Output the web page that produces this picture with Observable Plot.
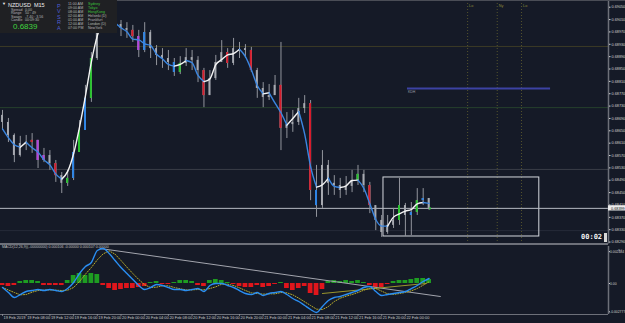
<!DOCTYPE html>
<html><head><meta charset="utf-8">
<script src="https://cdn.jsdelivr.net/npm/d3@7"></script>
<script src="https://cdn.jsdelivr.net/npm/@observablehq/plot@0.6"></script>
<style>
html,body{margin:0;padding:0;background:#151a27;}
#wrap{position:relative;width:625px;height:323px;overflow:hidden;background:#151a27;font-family:"Liberation Sans",Arial,sans-serif;}
#main,#macd{position:absolute;left:0;}
#main{top:0}
#macd{top:245px}
#topline{position:absolute;left:0;top:0;width:625px;height:1px;background:#4a4d56;}
#info{position:absolute;left:0;top:0;width:117px;height:33px;background:#1f2023;color:#bdbdbd;}
#info span{position:absolute;white-space:nowrap;line-height:1;}
.sm{font-size:3.6px;color:#b5b5b5;}
.pv{font-size:5.5px;color:#4f5fd0;left:57px;}
#timer{position:absolute;left:581px;top:234px;font-size:7px;font-weight:bold;color:#f2f2f2;font-family:"DejaVu Sans Mono",monospace;line-height:1;}
#icon{position:absolute;left:603.5px;top:233px;width:3.5px;height:9px;background:#d8d8d8;}
#macdlab{position:absolute;left:2px;top:246px;font-size:3.6px;color:#c0c0c0;white-space:nowrap;line-height:1;}
</style></head>
<body><div id="wrap">
<div id="main"></div><div id="macd"></div><div id="topline"></div>
<div id="info">
  <span style="left:2px;top:2px;font-size:4px;color:#eee">▼</span>
  <span style="left:8px;top:2.5px;font-size:5.5px;color:#f0f0f0">NZDUSD&nbsp;&nbsp;M15</span>
  <span class="sm" style="left:11px;top:8.5px">Spread</span><span class="sm" style="left:25px;top:8.5px">0.00</span>
  <span class="sm" style="left:11px;top:12px">Range</span><span class="sm" style="left:25px;top:12px">50 : 49</span>
  <span class="sm" style="left:11px;top:15.5px">Swaps</span><span class="sm" style="left:25px;top:15.5px">-7.40 : 3.56</span>
  <span class="sm" style="left:11px;top:19px">Candle</span><span class="sm" style="left:25px;top:19px">00:09:30</span>
  <span style="left:13px;top:23px;font-size:8px;color:#3fd23f">0.6839</span>
  <span class="pv" style="top:3.5px">P</span><span class="pv" style="top:9px">V</span><span class="pv" style="top:14.5px">S</span><span class="pv" style="top:20px">R</span><span class="pv" style="top:25.5px">A</span>
  <span class="sm" style="left:68px;top:2.5px">11:00 AM</span><span class="sm" style="left:88px;top:2.5px;color:#3cc23c">Sydney</span>
  <span class="sm" style="left:68px;top:6.5px">09:00 AM</span><span class="sm" style="left:88px;top:6.5px;color:#3cc23c">Tokyo</span>
  <span class="sm" style="left:68px;top:10.5px">08:00 AM</span><span class="sm" style="left:88px;top:10.5px;color:#3cc23c">HongKong</span>
  <span class="sm" style="left:68px;top:14.5px">02:00 AM</span><span class="sm" style="left:88px;top:14.5px">Helsinki (D)</span>
  <span class="sm" style="left:68px;top:18.5px">01:00 AM</span><span class="sm" style="left:88px;top:18.5px">Frankfurt</span>
  <span class="sm" style="left:68px;top:22.5px">12:00 AM</span><span class="sm" style="left:88px;top:22.5px">London (D)</span>
  <span class="sm" style="left:68px;top:26.5px">07:00 PM</span><span class="sm" style="left:88px;top:26.5px">NewYork</span>
</div>
<div id="macdlab">MACD(12,26,9)(-.00000000) 0.000106 -0.00000 0.000107 0.00000</div>
<div id="timer">00:02</div><div id="icon"></div>
</div>
<script>
// ---- data (hours since 19 Feb 2019 00:00, hourly bars) ----
const hours = d3.range(4, 77);
const close = [0.68677,0.68635,0.68570,0.68609,0.68612,0.68619,0.68554,0.68570,0.68544,0.68505,
0.68480,0.68496,0.68580,0.68651,0.68755,0.68884,0.68981,0.69007,0.69020,0.68994,
0.68981,0.68975,0.68955,0.68910,0.68968,0.68916,0.68894,0.68884,0.68871,0.68839,
0.68868,0.68887,0.68878,0.68845,0.68764,0.68819,0.68871,0.68903,0.68868,0.68916,
0.68916,0.68910,0.68845,0.68787,0.68758,0.68764,0.68797,0.68658,0.68670,0.68677,
0.68722,0.68738,0.68457,0.68408,0.68538,0.68480,0.68473,0.68457,0.68470,0.68489,
0.68509,0.68473,0.68408,0.68360,0.68321,0.68344,0.68360,0.68408,0.68376,0.68386,
0.68424,0.68431,0.68399];
const high = [0.68716,0.68690,0.68640,0.68632,0.68635,0.68641,0.68619,0.68593,0.68586,0.68554,
0.68515,0.68522,0.68619,0.68683,0.68797,0.68903,0.69013,0.69039,0.69046,0.69033,
0.69007,0.69000,0.68991,0.68975,0.69000,0.68975,0.68926,0.68916,0.68910,0.68884,
0.68890,0.68916,0.68910,0.68890,0.68852,0.68845,0.68894,0.68942,0.68916,0.68949,
0.68936,0.68929,0.68920,0.68852,0.68806,0.68800,0.68829,0.68936,0.68709,0.68716,
0.68755,0.68764,0.68748,0.68538,0.68586,0.68554,0.68505,0.68496,0.68502,0.68522,
0.68538,0.68522,0.68483,0.68408,0.68376,0.68376,0.68399,0.68496,0.68415,0.68418,
0.68463,0.68463,0.68431];
const low = [0.68651,0.68612,0.68547,0.68565,0.68586,0.68577,0.68528,0.68547,0.68522,0.68483,
0.68447,0.68470,0.68489,0.68580,0.68651,0.68742,0.68878,0.68968,0.68981,0.68968,
0.68955,0.68949,0.68936,0.68887,0.68903,0.68884,0.68861,0.68852,0.68845,0.68826,
0.68832,0.68858,0.68845,0.68806,0.68725,0.68764,0.68813,0.68871,0.68852,0.68861,
0.68884,0.68884,0.68839,0.68755,0.68725,0.68748,0.68764,0.68586,0.68625,0.68645,
0.68667,0.68706,0.68424,0.68370,0.68399,0.68441,0.68441,0.68431,0.68441,0.68450,
0.68473,0.68450,0.68382,0.68327,0.68305,0.68315,0.68334,0.68344,0.68308,0.68311,
0.68376,0.68408,0.68392];
const firstOpen = 0.68700;
const highlightHours = [9,10,11,13,15,16,17,18,19,26,27,28,33,34,38,42,46,51,56,57,64,66,71,73,74,75];
const highlightKinds = ["red","purple","purple","red","green","blue","green","blue","green","red",
"purple","blue","blue","green","red","red","red","red","red","blue","green","red","green","blue","green","blue"];

const macdMain = [-0.000268,-0.000604,-0.000939,-0.000738,-0.000537,-0.000470,-0.000403,-0.000470,-0.000403,-0.000470,
-0.000537,-0.000336,0.000067,0.000671,0.001141,0.001409,0.002214,0.002349,0.002013,0.001543,
0.001074,0.000671,0.000268,-0.000134,-0.000403,-0.000268,-0.000067,-0.000134,-0.000268,-0.000403,
-0.000403,-0.000470,-0.000403,-0.000336,-0.000537,-0.000134,0.000000,0.000000,-0.000134,-0.000268,
-0.000470,-0.000671,-0.000738,-0.000604,-0.000805,-0.000671,-0.000604,-0.000537,-0.000738,-0.001007,
-0.001208,-0.001476,-0.001745,-0.001946,-0.001543,-0.001141,-0.000939,-0.000872,-0.000738,-0.000604,
-0.000470,-0.000268,-0.000201,-0.000537,-0.000805,-0.000738,-0.000671,-0.000604,-0.000537,-0.000336,
-0.000134,0.000134,0.000336];
const macdHist = [-0.000134,-0.000201,-0.000134,0.000134,0.000201,0.000201,0.000134,-0.000134,-0.000134,-0.000134,
-0.000134,0.000201,0.000537,0.000671,0.000537,0.000671,0.000604,-0.000134,-0.000336,-0.000470,
-0.000403,-0.000336,-0.000336,-0.000268,-0.000201,0.000067,0.000134,-0.000067,-0.000067,0.000067,
0.000201,0.000201,0.000134,-0.000134,-0.000201,0.000201,0.000268,0.000201,0.000067,-0.000067,
-0.000201,-0.000268,-0.000268,-0.000134,-0.000268,-0.000201,-0.000067,0.000067,-0.000336,-0.000470,
-0.000336,-0.000201,-0.000671,-0.000805,-0.000403,0.000134,0.000201,0.000134,0.000201,0.000134,
0.000201,0.000067,-0.000134,-0.000268,-0.000268,-0.000067,0.000134,0.000201,0.000201,0.000268,
0.000336,0.000336,0.000268];

const priceTicks = [0.69050,0.69010,0.68970,0.68930,0.68890,0.68850,0.68810,0.68770,0.68730,0.68690,
0.68650,0.68610,0.68570,0.68530,0.68490,0.68450,0.68410,0.68370,0.68330,0.68290];
const macdTickValues = [0.00214, 0, -0.00190];
const macdTickLabels = ["0.002484", "0.00", "-0.002777"];
const timeHours = [4,8,12,16,20,24,28,32,36,40,44,48,52,56,60,64,68,72];
const timeLabels = ["19 Feb 2019","19 Feb 08:00","19 Feb 12:00","19 Feb 16:00","19 Feb 20:00","20 Feb 00:00",
"20 Feb 04:00","20 Feb 08:00","20 Feb 12:00","20 Feb 16:00","20 Feb 20:00","21 Feb 00:00",
"21 Feb 04:00","21 Feb 08:00","21 Feb 12:00","21 Feb 16:00","21 Feb 20:00","22 Feb 00:00"];
const levelPrices = [0.68923, 0.68725, 0.68525, 0.68327];
const sessionHours = [82.5, 87.5, 91.6];
const sessionLabels = ["Lo", "Ny", "Lo"];
const boxHours = [68.3, 94.6];
const boxPrices = [0.68308, 0.68499];
const kdhPrice = 0.68787;
const kdhHours = [72.35, 96.5];
const kdhLabel = "KDH";
const grayTrend = [{h: 20.5, v: 0.002349}, {h: 77.9, v: -0.000872}];
const oliveTrend = [{h: 58.0, v: -0.000671}, {h: 75.4, v: 0.0}];

// ---- styles / scales ----
const levelColors = ["#3c3b26", "#26402c", "#3a3d47", "#262b39"];
const kindColor = {red: "#d81b2b", green: "#25c42a", blue: "#2a84e8", purple: "#b43fe0"};
const xDomain = [3.662, 106.278];
const yDomain = [0.682837, 0.690717];
const mDomain = [-0.00208, 0.002484];
const axisColor = "#6d7079";
const font = "Liberation Sans, Arial, sans-serif";

// ---- derived rows ----
const bars = hours.map((h, i) => ({h, o: i ? close[i-1] : firstOpen, c: close[i], hi: high[i], lo: low[i]}));
const hiMap = new Map(highlightHours.map((h, i) => [h, highlightKinds[i]]));
const hlBars = bars.filter(b => hiMap.has(b.h)).map(b => ({...b, kind: hiMap.get(b.h)}));
const ma = close.map((_, i) => d3.mean(close.slice(Math.max(0, i-1), i+2)));
const runs = []; let run = null;
for (let i = 1; i < ma.length; i++) {
  const dir = ma[i] > ma[i-1] ? "up" : "down";
  if (!run || run.dir !== dir) { run = {dir, pts: [{h: hours[i-1], v: ma[i-1]}]}; runs.push(run); }
  run.pts.push({h: hours[i], v: ma[i]});
}
const maRows = runs.flatMap((r, k) => r.pts.map(p => ({...p, run: k, dir: r.dir})));
const lastClose = close[close.length-1];
const lastHour = hours[hours.length-1];
const macdRows = hours.map((h, i) => ({h, v: macdMain[i]}));
const histRows = hours.map((h, i) => ({h, v: macdHist[i]}));

const main = Plot.plot({
  width: 625, height: 245,
  marginLeft: 0, marginRight: 17, marginTop: 0, marginBottom: 1.5,
  x: {domain: xDomain, axis: null},
  y: {domain: yDomain, axis: null},
  color: {type: "identity"},
  style: {background: "transparent", overflow: "visible", fontFamily: font, fontSize: "4px", color: "#c8c8c8"},
  marks: [
    Plot.ruleY(levelPrices, {stroke: (d, i) => levelColors[i], strokeWidth: 1}),
    Plot.ruleX(sessionHours, {stroke: "#55542e", strokeDasharray: "1,2", strokeWidth: 1}),
    Plot.text(sessionHours, {x: d => d, text: (d, i) => sessionLabels[i], frameAnchor: "top", dy: 4, dx: 1.5, textAnchor: "start", fill: "#8d8b3c", fontSize: 3.8}),
    Plot.ruleY([kdhPrice], {x1: kdhHours[0], x2: kdhHours[1], stroke: "#3c42a3", strokeWidth: 2}),
    Plot.text([kdhPrice], {x: kdhHours[0], y: d => d, text: () => kdhLabel, dy: 3.5, dx: 0.5, textAnchor: "start", fill: "#9a9aa6", fontSize: 3.5}),
    Plot.rect([0], {x1: boxHours[0], x2: boxHours[1], y1: boxPrices[0], y2: boxPrices[1], stroke: "#d5d8de", strokeWidth: 1, fill: "none"}),
    Plot.ruleY([lastClose], {stroke: "#b7bac2", strokeWidth: 1}),
    Plot.ruleX(bars, {x: "h", y1: "lo", y2: "hi", stroke: "#92959d", strokeWidth: 1}),
    Plot.rect(bars, {x1: d => d.h - 0.16, x2: d => d.h + 0.16, y1: "o", y2: "c", fill: "#a7aab1"}),
    Plot.rect(hlBars, {x1: d => d.h - 0.16, x2: d => d.h + 0.16, y1: "o", y2: "c", fill: d => kindColor[d.kind]}),
    Plot.line(maRows, {x: "h", y: "v", z: "run", stroke: d => d.dir === "up" ? "#f4f4f4" : "#3b86e0", strokeWidth: 1.4, curve: "monotone-x"}),
    Plot.dot([lastClose], {x: lastHour, y: d => d, fill: "#2fd03a", r: 1, symbol: "square", dx: 1}),
    Plot.ruleX([xDomain[1]], {stroke: axisColor, strokeWidth: 1.5}),
    Plot.ruleY([yDomain[0]], {stroke: axisColor, strokeWidth: 2}),
    Plot.axisY({anchor: "right", ticks: priceTicks, tickFormat: d3.format(".5f"), tickSize: 1.5, tickPadding: 1.5, fontSize: 3.8, color: "#cfcfcf"}),
    Plot.rect([lastClose], {x1: xDomain[1], x2: xDomain[1] + 3, y1: d => d - 0.000085, y2: d => d + 0.000085, fill: "#ececec"}),
    Plot.text([lastClose], {y: d => d, frameAnchor: "right", dx: 2.5, textAnchor: "start", text: d => d3.format(".5f")(d), fill: "#111", fontSize: 3.8})
  ]
});
document.getElementById("main").appendChild(main);

const macd = Plot.plot({
  width: 625, height: 78,
  marginLeft: 0, marginRight: 17, marginTop: 1, marginBottom: 9,
  x: {domain: xDomain, axis: null},
  y: {domain: mDomain, axis: null},
  color: {type: "identity"},
  style: {background: "transparent", overflow: "visible", fontFamily: font, fontSize: "4px", color: "#c8c8c8"},
  marks: [
    Plot.rect(histRows, {x1: d => d.h - 0.4, x2: d => d.h + 0.4, y1: 0, y2: "v", fill: d => d.v >= 0 ? "#1e9d22" : "#e0161c"}),
    Plot.line(grayTrend, {x: "h", y: "v", stroke: "#a3a5ae", strokeWidth: 1}),
    Plot.line(oliveTrend, {x: "h", y: "v", stroke: "#9a962c", strokeWidth: 1}),
    Plot.lineY(macdRows, Plot.windowY({k: 3, anchor: "end"}, {x: "h", y: "v", stroke: "#b9ad2c", strokeWidth: 1, strokeDasharray: "1,1.5"})),
    Plot.line(macdRows, {x: "h", y: "v", stroke: "#2a8ef2", strokeWidth: 1.4, curve: "monotone-x"}),
    Plot.ruleX([xDomain[1]], {stroke: axisColor, strokeWidth: 1.5}),
    Plot.ruleY([mDomain[0]], {stroke: axisColor, strokeWidth: 1}),
    Plot.axisY({anchor: "right", ticks: macdTickValues, tickFormat: d => macdTickLabels[macdTickValues.indexOf(d)], tickSize: 1, tickPadding: 0.5, fontSize: 3.4, color: "#cfcfcf"}),
    Plot.ruleX(timeHours, {x: d => d, y1: mDomain[0], y2: mDomain[0] - 0.00012, stroke: "#8a8d95"}),
    Plot.text(timeHours, {x: d => d, text: (d, i) => timeLabels[i], frameAnchor: "bottom", textAnchor: "start", dx: 1, dy: 4.5, fontSize: 3.9, fill: "#c8c8c8"})
  ]
});
document.getElementById("macd").appendChild(macd);
</script>
</body></html>
